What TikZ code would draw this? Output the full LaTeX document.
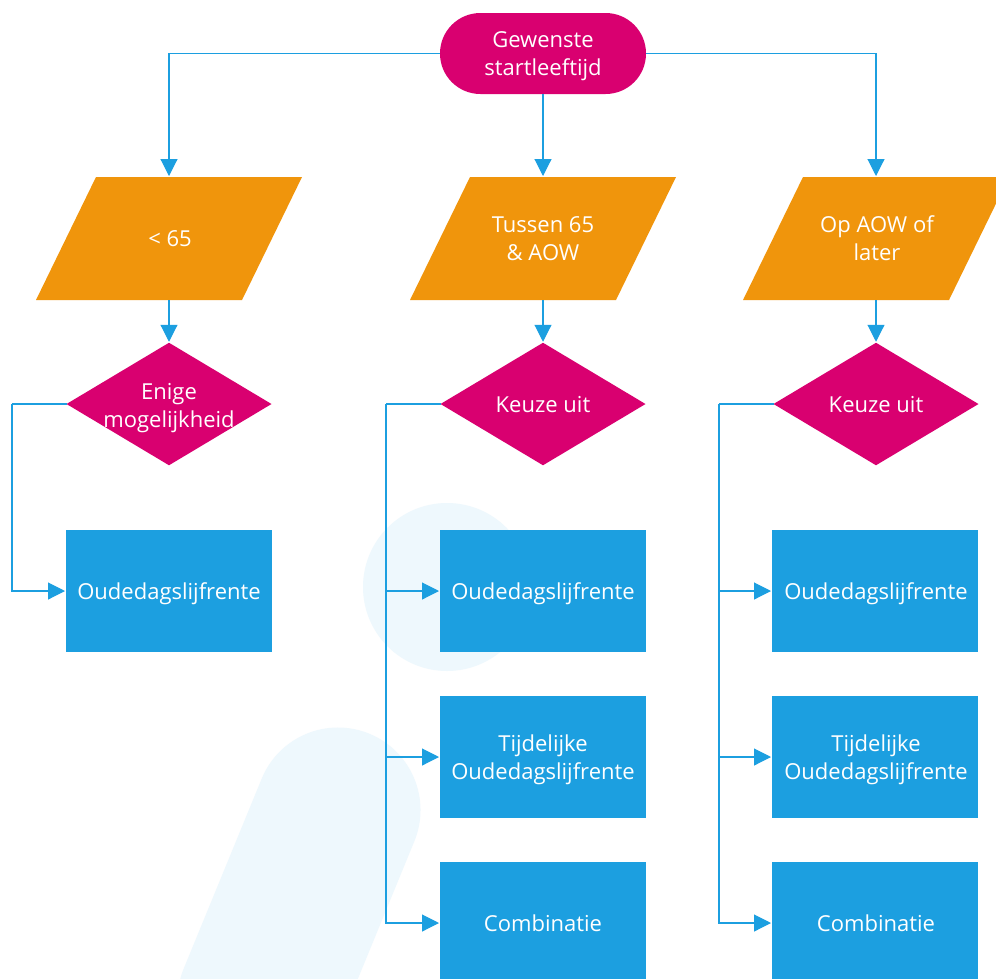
\documentclass[tikz,border=0pt]{standalone}
\usepackage{fontspec}
\setmainfont{Open Sans}
\usetikzlibrary{arrows.meta,shapes.geometric}
\definecolor{flowblue}{HTML}{1C9FE0}
\definecolor{flowpink}{HTML}{D90070}
\definecolor{floworange}{HTML}{F0950C}
\definecolor{bgblue}{HTML}{EEF8FD}
\newcommand{\slantfill}[1]{\fill[floworange] ([xshift=60pt]#1.north east) -- (#1.north west) -- ([xshift=-60pt]#1.south west) -- (#1.south east) -- cycle;}
\tikzset{
  txt/.style={text=white,font=\fontsize{22}{28}\selectfont,align=center,inner sep=0pt,outer sep=0pt},
  startbox/.style={fill=flowpink,inner sep=0pt,outer sep=0pt,minimum width=206pt,minimum height=81pt,rounded corners=40.4pt},
  inputbox/.style={inner sep=0pt,outer sep=0pt,minimum width=146pt,minimum height=123pt},
  choicebox/.style={fill=flowpink,diamond,aspect=1.67,inner sep=0pt,outer sep=0pt,minimum width=205pt,minimum height=122.5pt},
  resultbox/.style={fill=flowblue,inner sep=0pt,outer sep=0pt,minimum width=206pt,minimum height=122pt},
  link/.style={draw=flowblue,line width=1.1pt,-{Triangle[length=17pt,width=17pt,fill=flowblue]},shorten >=1pt},
  plainlink/.style={draw=flowblue,line width=1.1pt}
}
\begin{document}
\begin{tikzpicture}[x=1pt,y=-1pt]
\useasboundingbox (0,0) rectangle (996,978);
\clip (0,0) rectangle (996,978);
\fill[white] (0,0) rectangle (996,978);
% background watermark
\fill[bgblue] (447,587) circle (84pt);
\draw[bgblue,line width=165pt,line cap=round] (338,810) -- (260,1000);
% nodes
\node[startbox] (start) at (543,53.5) {};
\node[inputbox] (p1) at (169,238.5) {};
\node[inputbox] (p2) at (543,238.5) {};
\node[inputbox] (p3) at (876,238.5) {};
\slantfill{p1}
\slantfill{p2}
\slantfill{p3}
\node[choicebox] (d1) at (169,404) {};
\node[choicebox] (d2) at (543,404) {};
\node[choicebox] (d3) at (876,404) {};
\node[resultbox] (a1) at (169,591) {};
\node[resultbox] (a2) at (543,591) {};
\node[resultbox] (b2) at (543,757) {};
\node[resultbox] (c2) at (543,923) {};
\node[resultbox] (a3) at (875,591) {};
\node[resultbox] (b3) at (875,757) {};
\node[resultbox] (c3) at (875,923) {};
% texts
\node[txt] (tstart) at (543,56.5) {Gewenste\\startleeftijd};
\node[txt] (tp1) at (170,239) {< 65};
\node[txt] (tp2) at (543,239) {Tussen 65\\\& AOW};
\node[txt] (tp3) at (877,238) {Op AOW of\\later};
\node[txt] (t1) at (169,408) {Enige\\mogelijkheid};
\node[txt] (t2) at (543,405) {Keuze uit};
\node[txt] (t3) at (876,405) {Keuze uit};
\node[txt] (ta1) at (169,594) {Oudedagslijfrente};
\node[txt] (ta2) at (543,594) {Oudedagslijfrente};
\node[txt] (tb2) at (543,760) {Tijdelijke\\Oudedagslijfrente};
\node[txt] (tc2) at (543,923) {Combinatie};
\node[txt] (ta3) at (876,594) {Oudedagslijfrente};
\node[txt] (tb3) at (876,760) {Tijdelijke\\Oudedagslijfrente};
\node[txt] (tc3) at (876,923) {Combinatie};
% bus coordinates
\coordinate (bus1) at (12,404);
\coordinate (bus2) at (386,404);
\coordinate (bus3) at (719,404);
% connectors
\draw[link] (start.west) -| (p1.north);
\draw[link] (start.south) -- (p2.north);
\draw[link] (start.east) -| (p3.north);
\draw[link] (p1.south) -- (d1.north);
\draw[link] (p2.south) -- (d2.north);
\draw[link] (p3.south) -- (d3.north);
\draw[plainlink] (d1.west) -- (bus1);
\draw[plainlink] (d2.west) -- (bus2);
\draw[plainlink] (d3.west) -- (bus3);
\draw[link] (bus1) |- (a1.west);
\draw[link] (bus2) |- (a2.west);
\draw[link] (bus2) |- (b2.west);
\draw[link] (bus2) |- (c2.west);
\draw[link] (bus3) |- (a3.west);
\draw[link] (bus3) |- (b3.west);
\draw[link] (bus3) |- (c3.west);
\end{tikzpicture}
\end{document}
